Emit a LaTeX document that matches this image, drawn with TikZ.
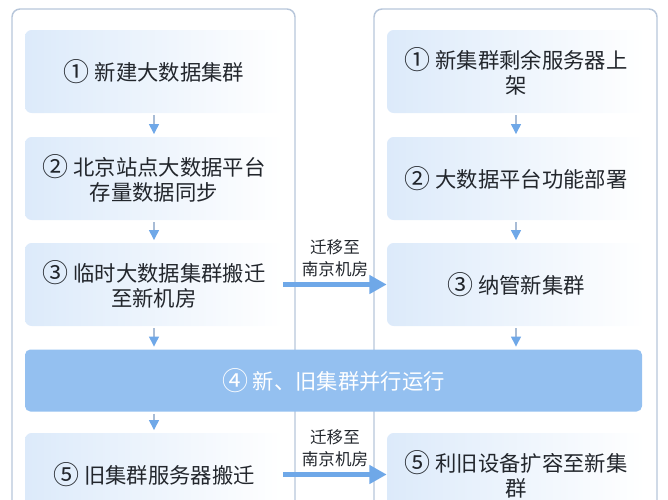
\documentclass[tikz,border=0pt]{standalone}
\usepackage{fontspec}
\setmainfont{Noto Sans CJK SC}
\usetikzlibrary{positioning}
\usetikzlibrary{arrows.meta}
\definecolor{panelgray}{HTML}{B7C6DA}
\definecolor{boxblue}{HTML}{DCEAFA}
\definecolor{bandblue}{HTML}{94C0F0}
\definecolor{arrowblue}{HTML}{6FA8E8}
\definecolor{linegray}{HTML}{A8BCD6}
\definecolor{textdark}{HTML}{22262C}
\newcommand{\stepno}[1]{\raisebox{-0.6pt}{\fontsize{19.5}{18.75}\selectfont #1}}

\begin{document}
\begin{tikzpicture}[x=0.75pt,y=0.75pt]
		\tikzstyle{panel} = [draw=panelgray, line width=1.1pt, rounded corners=6pt]
		\tikzstyle{elem} = [rectangle, rounded corners=5pt, minimum width=193.5pt, minimum height=62.25pt, align=center, left color=boxblue, right color=white, text=textdark, font=\fontsize{16}{18.75}\selectfont]
		\tikzstyle{band} = [rectangle, rounded corners=4pt, minimum width=462.75pt, minimum height=46.5pt, fill=bandblue, text=white, font=\fontsize{16}{18.75}\selectfont]
		\tikzstyle{flow} = [draw=linegray, line width=0.9pt, -{Triangle[width=7.5pt,length=7.5pt,color=arrowblue]}, shorten <=1.5pt, shorten >=2pt]
		\tikzstyle{migrate} = [draw=arrowblue, line width=3.8pt, -{Triangle[width=13.5pt,length=13pt]}]
		\tikzstyle{migLabel} = [align=center, inner sep=0pt, text=textdark, font=\fontsize{12.4}{16.5}\selectfont]

		\useasboundingbox (0,0) rectangle (668,-500);
		\draw [panel] (12,-9) rectangle (295,-540);
		\draw [panel] (374,-9) rectangle (657,-540);

		% left column: old site
		\node (newCluster) [elem] at (154,-71.5) {\stepno{①} 新建大数据集群};
		\node (syncData) [elem, below of=newCluster, node distance=80.25pt] {\stepno{②} 北京站点大数据平台\\存量数据同步};
		\node (tempMove) [elem, below of=syncData, node distance=79.5pt] {\stepno{③} 临时大数据集群搬迁\\至新机房};
		\node (parallel) [band] at (333.5,-380.5) {\stepno{④} 新、旧集群并行运行};
		\node (oldMove) [elem, below of=tempMove, node distance=142.5pt] {\stepno{⑤} 旧集群服务器搬迁};

		% right column: new site
		\node (rackServers) [elem] at (516,-71.5) {\stepno{①} 新集群剩余服务器上\\架};
		\node (deployPlatform) [elem, below of=rackServers, node distance=80.25pt] {\stepno{②} 大数据平台功能部署};
		\node (manageNew) [elem, below of=deployPlatform, node distance=79.5pt] {\stepno{③} 纳管新集群};
		\node (reuseOld) [elem, below of=manageNew, node distance=142.5pt] {\stepno{⑤} 利旧设备扩容至新集\\群};

		\draw [flow] (newCluster) -- (syncData);
		\draw [flow] (syncData) -- (tempMove);
		\draw [flow] (tempMove.south) -- (tempMove.south |- parallel.north);
		\draw [flow] (oldMove.north |- parallel.south) -- (oldMove.north);
		\draw [flow] (rackServers) -- (deployPlatform);
		\draw [flow] (deployPlatform) -- (manageNew);
		\draw [flow] (manageNew.south) -- (manageNew.south |- parallel.north);

		\draw [migrate] (tempMove.east) -- node [migLabel, above=4pt] {迁移至\\南京机房} (manageNew.west);
		\draw [migrate] (oldMove.east) -- node [migLabel, above=4pt] {迁移至\\南京机房} (reuseOld.west);
	\end{tikzpicture}
\end{document}
